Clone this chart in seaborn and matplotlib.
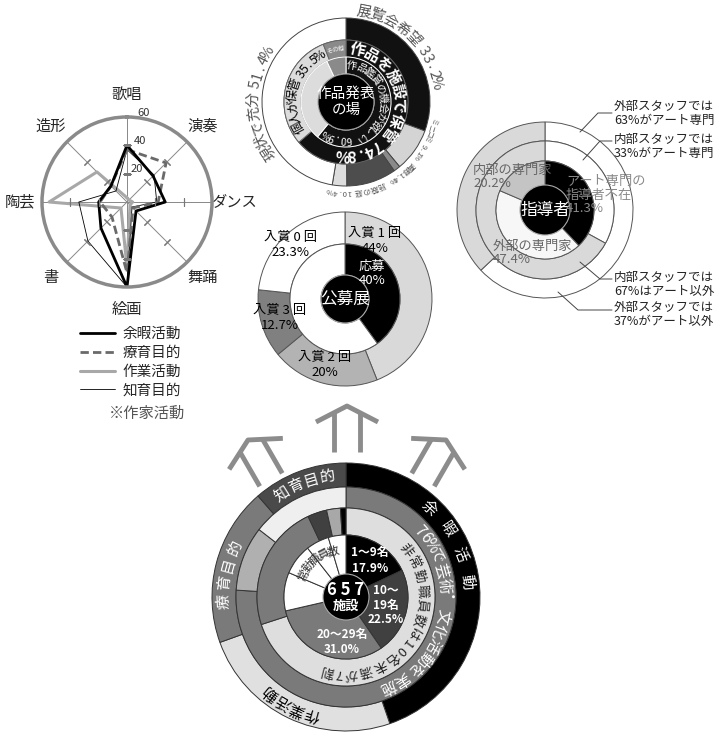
import numpy as np
import pandas as pd
import matplotlib
matplotlib.use('Agg')
import matplotlib.pyplot as plt
from matplotlib.lines import Line2D
import seaborn as sns

# ---- レーダーチャート（作家活動） ----
radar_axes = ['歌唱', '演奏', 'ダンス', '舞踊', '絵画', '書', '陶芸', '造形']
radar_series = ['余暇活動', '療育目的', '作業活動', '知育目的']
yoka_vals = [40, 26, 27, 9, 60, 26, 20, 16]
ryoiku_vals = [37, 39, 22, 6, 50, 15, 19, 16]
sagyo_vals = [3, 2, 4, 3, 46, 6, 55, 30]
chiiku_vals = [37, 27, 21, 5, 60, 39, 34, 11]
radar_ticks = [20, 40, 60]

# ---- 作品発表の場 ----
tenji_labels = ['展覧会希望 33.2%', 'ミニコミ 9.1%', '画廊 1.4%', '施設の庭 10.4%', '', '現状で充分 51.4%']
tenji_vals = [33.2, 9.1, 1.4, 10.4, 3.0, 51.4]
hokan_labels = ['作品を施設で保管 74.8%', '個人が保管 35.5%', 'その他']
hokan_vals = [74.8, 35.5, 7.0]
kansho_labels = ['作品鑑賞の機会が欲しい 60.9%', '', '']
kansho_vals = [60.9, 32.1, 7.0]

# ---- 指導者 ----
shido_labels = ['アート専門の\n指導者不在\n41.3%', '外部の専門家\n47.4%', '内部の専門家\n20.2%']
shido_vals = [41.3, 47.4, 20.2]
gaibu_vals = [63, 37]
naibu_vals = [33, 67]
staff_notes = ['外部スタッフでは\n63%がアート専門', '内部スタッフでは\n33%がアート専門',
               '内部スタッフでは\n67%はアート以外', '外部スタッフでは\n37%がアート以外']

# ---- 公募展 ----
nyusho_labels = ['入賞 1 回\n44%', '入賞 2 回\n20%', '入賞 3 回\n12.7%', '入賞 0 回\n23.3%']
nyusho_vals = [44, 20, 12.7, 23.3]
oubo_vals = [40, 60]

# ---- 657施設 ----
mokuteki_labels = ['余暇活動', '作業活動', '療育目的', '知育目的']
mokuteki_vals = [44.7, 24.8, 19.1, 11.4]
geijutsu_vals = [76, 9.5, 14.5]
hijokin_vals = [70, 23, 3.5, 2.5, 1.0]
jokin_labels = ['1～9名\n17.9%', '10～\n19名\n22.5%', '20～29名\n31.0%']
jokin_vals = [17.9, 22.5, 31.0, 10, 8, 6, 4.6]

sns.set_theme(style='white')
plt.rcParams['font.family'] = ['Noto Sans CJK JP', 'DejaVu Sans']

W, H = 722, 740
fig = plt.figure(figsize=(W / 100, H / 100), dpi=100)
ax = fig.add_axes([0, 0, 1, 1])


def ring(vals, c, r_out, r_in, colors, ec='#444444', lw=0.7):
    ax.pie(vals, radius=r_out, center=(c[0], H - c[1]), startangle=90,
           counterclock=False, colors=colors,
           wedgeprops=dict(width=r_out - r_in, edgecolor=ec, linewidth=lw))


def arc_text(s, c, r, t1, t2, size, color, weight='normal'):
    # 円弧に沿って一文字ずつ置く（時計回り、文字の頭は外向き）
    w = np.array([0.35 if ch == ' ' else (0.6 if ord(ch) < 128 else 1.0) for ch in s])
    mid = np.cumsum(w) - w / 2
    frac = (mid - mid[0]) / (mid[-1] - mid[0]) if len(s) > 1 else np.zeros(1)
    for ch, f in zip(s, frac):
        th = t1 + f * (t2 - t1)
        t = np.deg2rad(th)
        ax.text(c[0] + r * np.sin(t), H - c[1] + r * np.cos(t), ch, rotation=-th,
                rotation_mode='anchor', ha='center', va='center', fontsize=size,
                color=color, fontweight=weight)


def txt(x, y, s, size=9.5, color='black', **kw):
    ax.text(x, H - y, s, fontsize=size, color=color, ha=kw.pop('ha', 'center'),
            va=kw.pop('va', 'center'), linespacing=kw.pop('linespacing', 1.15), **kw)


def up_arrow(px, py, rot, color='#8c8c8c'):
    parts = [np.array([[-31, 16], [0, 0], [31, 16]]),
             np.array([[-13, 7], [-13, 46]]),
             np.array([[13, 7], [13, 46]])]
    t = np.deg2rad(rot)
    for p in parts:
        x = p[:, 0] * np.cos(t) - p[:, 1] * np.sin(t)
        y = p[:, 0] * np.sin(t) + p[:, 1] * np.cos(t)
        ax.plot(px + x, H - (py + y), color=color, lw=3.5, solid_capstyle='butt')


# 作品発表の場
c1 = (346, 102)
ring(tenji_vals, c1, 84, 62, ['#111111', '#d4d4d4', '#8a8a8a', '#4d4d4d', '#dddddd', 'white'])
ring(hokan_vals, c1, 62, 45, ['#111111', '#dcdcdc', '#8a8a8a'], ec='#666666')
ring(kansho_vals, c1, 45, 28, ['#111111', '#dcdcdc', '#8a8a8a'], ec='white')
ring([1], c1, 28, 0, ['#000000'], ec='#999999', lw=0.8)
arc_text(tenji_labels[0], c1, 92, 11, 78, 10.5, '#555555')
arc_text(tenji_labels[1], c1, 89, 103, 127, 5.5, '#555555')
arc_text(tenji_labels[2], c1, 90, 135, 149, 5.5, '#555555')
arc_text(tenji_labels[3], c1, 90, 157, 190, 5.5, '#555555')
arc_text(tenji_labels[5], c1, 92, 237, 302, 10.5, '#555555')
arc_text(hokan_labels[0], c1, 53, 13, 184, 11, 'white', 'bold')
arc_text(hokan_labels[1], c1, 53, 242, 330, 9, 'black')
arc_text(hokan_labels[2], c1, 54, 342, 354, 4.5, 'white')
arc_text(kansho_labels[0], c1, 37, 9, 211, 7.5, 'white')
txt(c1[0], c1[1], '作品発表\nの場', size=10.5, color='white', linespacing=1.2)

# 指導者
c2 = (545, 210)
ring(gaibu_vals, c2, 88, 69, ['white', '#d9d9d9'], ec='#555555')
ring(naibu_vals, c2, 69, 49, ['white', '#d9d9d9'], ec='#555555')
ring(shido_vals, c2, 49, 0, ['#000000', '#f7f7f7', '#c4c4c4'], ec='#555555')
ring([1], c2, 25, 0, ['#000000'], ec='#aaaaaa', lw=0.8)
txt(c2[0], c2[1], '指導者', size=12, color='white')
txt(566, 195, shido_labels[0], size=9.5, color='#8a8a8a', ha='left', linespacing=1.05)
txt(493, 253, shido_labels[1], size=9.5, color='#666666', ha='left', linespacing=1.05)
txt(473, 177, shido_labels[2], size=9.5, color='#666666', ha='left', linespacing=1.05)
leaders = [((580, 132), (598, 113), 113), ((583, 160), (600, 141), 146),
           ((580, 262), (600, 279), 284), ((558, 292), (578, 310), 314)]
for (a, b, ty), note in zip(leaders, staff_notes):
    ax.plot([a[0], b[0], 612], [H - a[1], H - b[1], H - b[1]], color='#444444', lw=0.7)
    txt(614, ty, note, size=9, color='#222222', ha='left', linespacing=1.1)

# 公募展
c3 = (345, 299)
ring(nyusho_vals, c3, 87, 55, ['#d9d9d9', '#b3b3b3', '#808080', 'white'], ec='#555555')
ring(oubo_vals, c3, 55, 24, ['#000000', 'white'], ec='#555555')
ring([1], c3, 24, 0, ['#000000'], ec='#aaaaaa', lw=0.8)
txt(c3[0], c3[1], '公募展', size=12, color='white')
txt(375, 241, nyusho_labels[0], size=9.5)
txt(325, 365, nyusho_labels[1], size=9.5)
txt(280, 318, nyusho_labels[2], size=9.5)
txt(290, 245, nyusho_labels[3], size=9.5)
txt(372, 273, '応募\n40%', size=9.5, color='white')

# 657施設
c4 = (346, 597)
ring(mokuteki_vals, c4, 134, 110, ['#000000', '#e0e0e0', '#7a7a7a', '#4a4a4a'], ec='#333333')
ring(geijutsu_vals, c4, 110, 89, ['#7a7a7a', '#b0b0b0', '#efefef'], ec='#333333')
ring(hijokin_vals, c4, 89, 62, ['#dedede', '#7a7a7a', '#404040', '#a8a8a8', '#000000'], ec='#333333')
ring(jokin_vals, c4, 62, 0, ['#000000', '#404040', '#7a7a7a', 'white', 'white', 'white', 'white'],
     ec='#333333')
ring([1], c4, 23, 0, ['#000000'], ec='#aaaaaa', lw=0.8)
arc_text(mokuteki_labels[0], c4, 122, 43, 83, 11, 'white')
arc_text(mokuteki_labels[1], c4, 122, 196, 218, 11, 'black')
arc_text(mokuteki_labels[2], c4, 122, 268, 294, 11, 'white')
arc_text(mokuteki_labels[3], c4, 122, 328, 351, 11, 'white')
arc_text('76%で芸術・文化活動を実施', c4, 99, 48, 155, 11, 'white')
arc_text('非常勤職員数は10名未満が7割', c4, 76, 52, 194, 9.5, '#222222')
arc_text('常勤職員数', c4, 48, 297, 344, 8.5, '#333333')
txt(370, 560, jokin_labels[0], size=8.5, color='white', linespacing=1.3, fontweight='bold')
txt(386, 605, jokin_labels[1], size=8.5, color='white', linespacing=1.15, fontweight='bold')
txt(342, 642, jokin_labels[2], size=8.5, color='white', linespacing=1.25, fontweight='bold')
txt(c4[0], 590, '6 5 7', size=12, color='white', fontweight='bold')
txt(c4[0], 606, '施設', size=9.5, color='white', fontweight='bold')

# 矢印
up_arrow(347, 406, 0)
up_arrow(248, 440, -30)
up_arrow(446, 440, 30)

ax.set_xlim(0, W)
ax.set_ylim(0, H)
ax.set_aspect('equal')
ax.axis('off')

# レーダーチャート
rc, rr = (127, 202), 85
axr = fig.add_axes([(rc[0] - rr) / W, (H - rc[1] - rr) / H, 2 * rr / W, 2 * rr / H],
                   projection='polar')
axr.set_theta_zero_location('N')
axr.set_theta_direction(-1)
ang = np.linspace(0, 2 * np.pi, len(radar_axes) + 1)

styles = {
    '余暇活動': dict(color='black', linewidth=2.0, linestyle='-'),
    '療育目的': dict(color='#6a6a6a', linewidth=2.0, linestyle=(0, (3, 1.5))),
    '作業活動': dict(color='#a8a8a8', linewidth=2.2, linestyle='-'),
    '知育目的': dict(color='black', linewidth=0.6, linestyle='-'),
}
series_vals = {'余暇活動': yoka_vals, '療育目的': ryoiku_vals,
               '作業活動': sagyo_vals, '知育目的': chiiku_vals}
for name in ['作業活動', '知育目的', '療育目的', '余暇活動']:
    v = series_vals[name]
    df = pd.DataFrame({'theta': ang, 'r': v + v[:1]})
    sns.lineplot(data=df, x='theta', y='r', sort=False, estimator=None, ax=axr,
                 **styles[name])

for a in ang[:-1]:
    deg = 90 - np.rad2deg(a)
    axr.plot([a, a], radar_ticks[:2], ls='none', marker=(2, 2, deg), markersize=6,
             markeredgecolor='#777777', markeredgewidth=0.8)

axr.set_ylim(0, 60)
axr.set_yticks(radar_ticks)
axr.set_yticklabels([str(t) for t in radar_ticks], fontsize=8, color='#333333')
axr.set_rlabel_position(7)
axr.set_xticks(ang[:-1])
axr.set_xticklabels(radar_axes, fontsize=11)
axr.tick_params(axis='x', pad=3)
axr.yaxis.grid(False)
axr.xaxis.grid(True, color='#888888', linewidth=0.7)
axr.spines['polar'].set_color('#8a8a8a')
axr.spines['polar'].set_linewidth(2.5)
axr.set_xlabel('')
axr.set_ylabel('')

handles = [Line2D([0], [0], **styles[n]) for n in radar_series]
fig.legend(handles, radar_series, loc='upper left', bbox_to_anchor=(80 / W, (H - 327) / H),
           frameon=False, fontsize=10.5, handlelength=2.4, handletextpad=0.5,
           labelspacing=0.33, borderpad=0, borderaxespad=0)
fig.text(147 / W, (H - 413) / H, '※作家活動', fontsize=11, color='#555555', ha='center', va='center')

fig.savefig('out.png', dpi=100, facecolor='white')
